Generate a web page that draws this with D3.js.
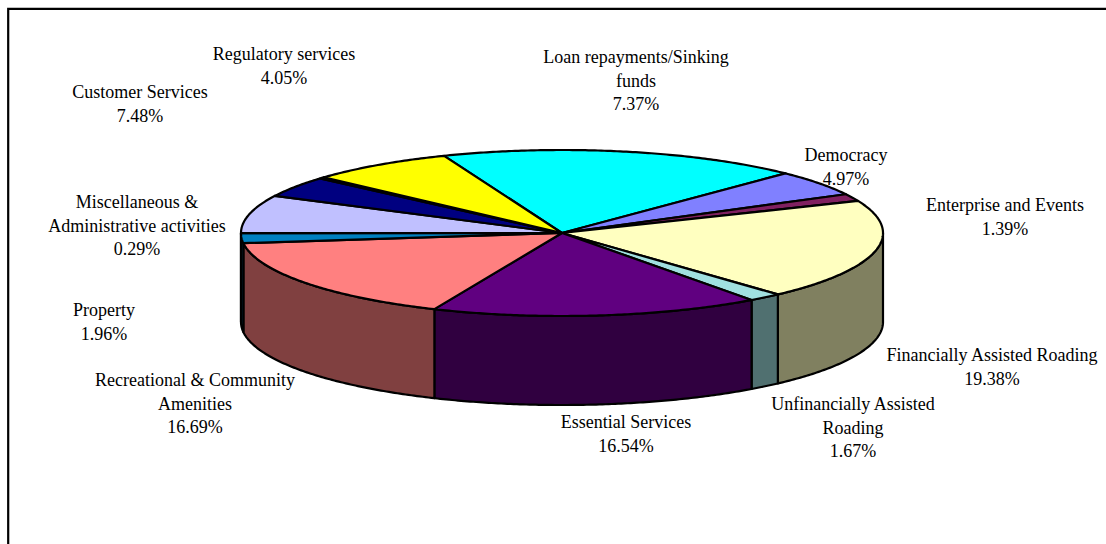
<!DOCTYPE html>
<html>
<head>
<meta charset="utf-8">
<title>Expenditure by activity</title>
<script src="https://cdn.jsdelivr.net/npm/d3@7"></script>
<style>
  html, body { margin: 0; padding: 0; background: #fff; overflow: hidden; }
  svg { display: block; }
  text { font-family: "Liberation Serif", "Times New Roman", serif; font-size: 18px; fill: #000; text-anchor: middle; }
</style>
</head>
<body>
<svg id="chart" width="1106" height="544"></svg>
<script>
// Activities clockwise from the large turquoise slice, whose share has no label.
const categories = [
  "", "Democracy", "Enterprise and Events", "Financially Assisted Roading",
  "Unfinancially Assisted Roading", "Essential Services",
  "Recreational & Community Amenities", "Property", "Customer Services",
  "Regulatory services", "Miscellaneous & Administrative activities",
  "Loan repayments/Sinking funds"
];
const shares = [18.21, 4.97, 1.39, 19.38, 1.67, 16.54, 16.69, 1.96, 7.48, 4.05, 0.29, 7.37];
const sliceColors = [
  "#00ffff", "#8080ff", "#802060", "#ffffc0", "#a0e0e0", "#600080",
  "#ff8080", "#0080c0", "#c0c0ff", "#000080", "#ff00ff", "#ffff00"
];

// Wrapped label lines, parallel to the categories above.
const labelLines = [
  [], ["Democracy"], ["Enterprise and Events"], ["Financially Assisted Roading"],
  ["Unfinancially Assisted", "Roading"], ["Essential Services"],
  ["Recreational & Community", "Amenities"], ["Property"], ["Customer Services"],
  ["Regulatory services"], ["Miscellaneous &", "Administrative activities"],
  ["Loan repayments/Sinking", "funds"]
];
const labelAnchors = [
  null, [846, 161], [1005, 211], [992, 361], [853, 410], [626, 428],
  [195, 386], [104, 316], [140, 98], [284, 60], [137, 208], [636, 63]
];

const svg = d3.select("#chart");
const cx = 562, cy = 233, rx = 321, ry = 83, depth = 89, lineHeight = 23.5;

// Page frame: only the top and left edges are ruled.
svg.append("path").attr("d", "M8.2,544V8.8H1106").attr("fill", "none")
  .attr("stroke", "#000").attr("stroke-width", 2.2);

const firstAngle = -21.6 * Math.PI / 180;
// The near side of the tilted drum swings slightly clockwise.
const tilt = t => t + (1.3 * Math.PI / 180) * (1 - Math.cos(t)) / 2;
const arcs = d3.pie().sort(null)
  .startAngle(firstAngle).endAngle(firstAngle + 2 * Math.PI)(shares)
  .map(d => ({ ...d, startAngle: tilt(d.startAngle), endAngle: tilt(d.endAngle) }));

const px = t => cx + rx * Math.sin(t);
const py = t => cy - ry * Math.cos(t);
const rimPoints = (a, b, dy = 0) => {
  const n = Math.max(2, Math.ceil(Math.abs(b - a) / 0.01));
  return d3.range(n + 1).map(i => {
    const t = a + (b - a) * i / n;
    return [px(t), py(t) + dy];
  });
};
const line = d3.line();
const outline = { stroke: "#000", width: 2.2 };

// Only the front half of the drum wall is visible (angles from 90 to 270 degrees).
const wallFrom = Math.PI / 2, wallTo = 3 * Math.PI / 2;
const walls = arcs.flatMap((d, i) => {
  const a = Math.max(d.startAngle, wallFrom), b = Math.min(d.endAngle, wallTo);
  return b > a ? [{ a, b, i }] : [];
});
const shade = c => { const r = d3.rgb(c); return d3.rgb(r.r / 2, r.g / 2, r.b / 2).formatHex(); };

svg.append("g").selectAll("path").data(walls).join("path")
  .attr("d", d => line([...rimPoints(d.a, d.b), ...rimPoints(d.b, d.a, depth)]) + "Z")
  .attr("fill", d => shade(sliceColors[d.i]))
  .attr("stroke", outline.stroke).attr("stroke-width", outline.width).attr("stroke-linejoin", "round");

// Top faces of the slices.
svg.append("g").selectAll("path").data(arcs).join("path")
  .attr("d", d => line([[cx, cy], ...rimPoints(d.startAngle, d.endAngle)]) + "Z")
  .attr("fill", (d, i) => sliceColors[i])
  .attr("stroke", outline.stroke).attr("stroke-width", outline.width).attr("stroke-linejoin", "round");

// Labels: wrapped name followed by the percentage.
const labels = svg.append("g").selectAll("text")
  .data(categories.map((c, i) => i).filter(i => labelAnchors[i])).join("text")
  .attr("transform", i => `translate(${labelAnchors[i][0]},${labelAnchors[i][1]})`);
labels.selectAll("tspan")
  .data(i => [...labelLines[i], shares[i].toFixed(2) + "%"]).join("tspan")
  .attr("x", 0).attr("y", (d, j) => j * lineHeight).text(d => d);
</script>
</body>
</html>
